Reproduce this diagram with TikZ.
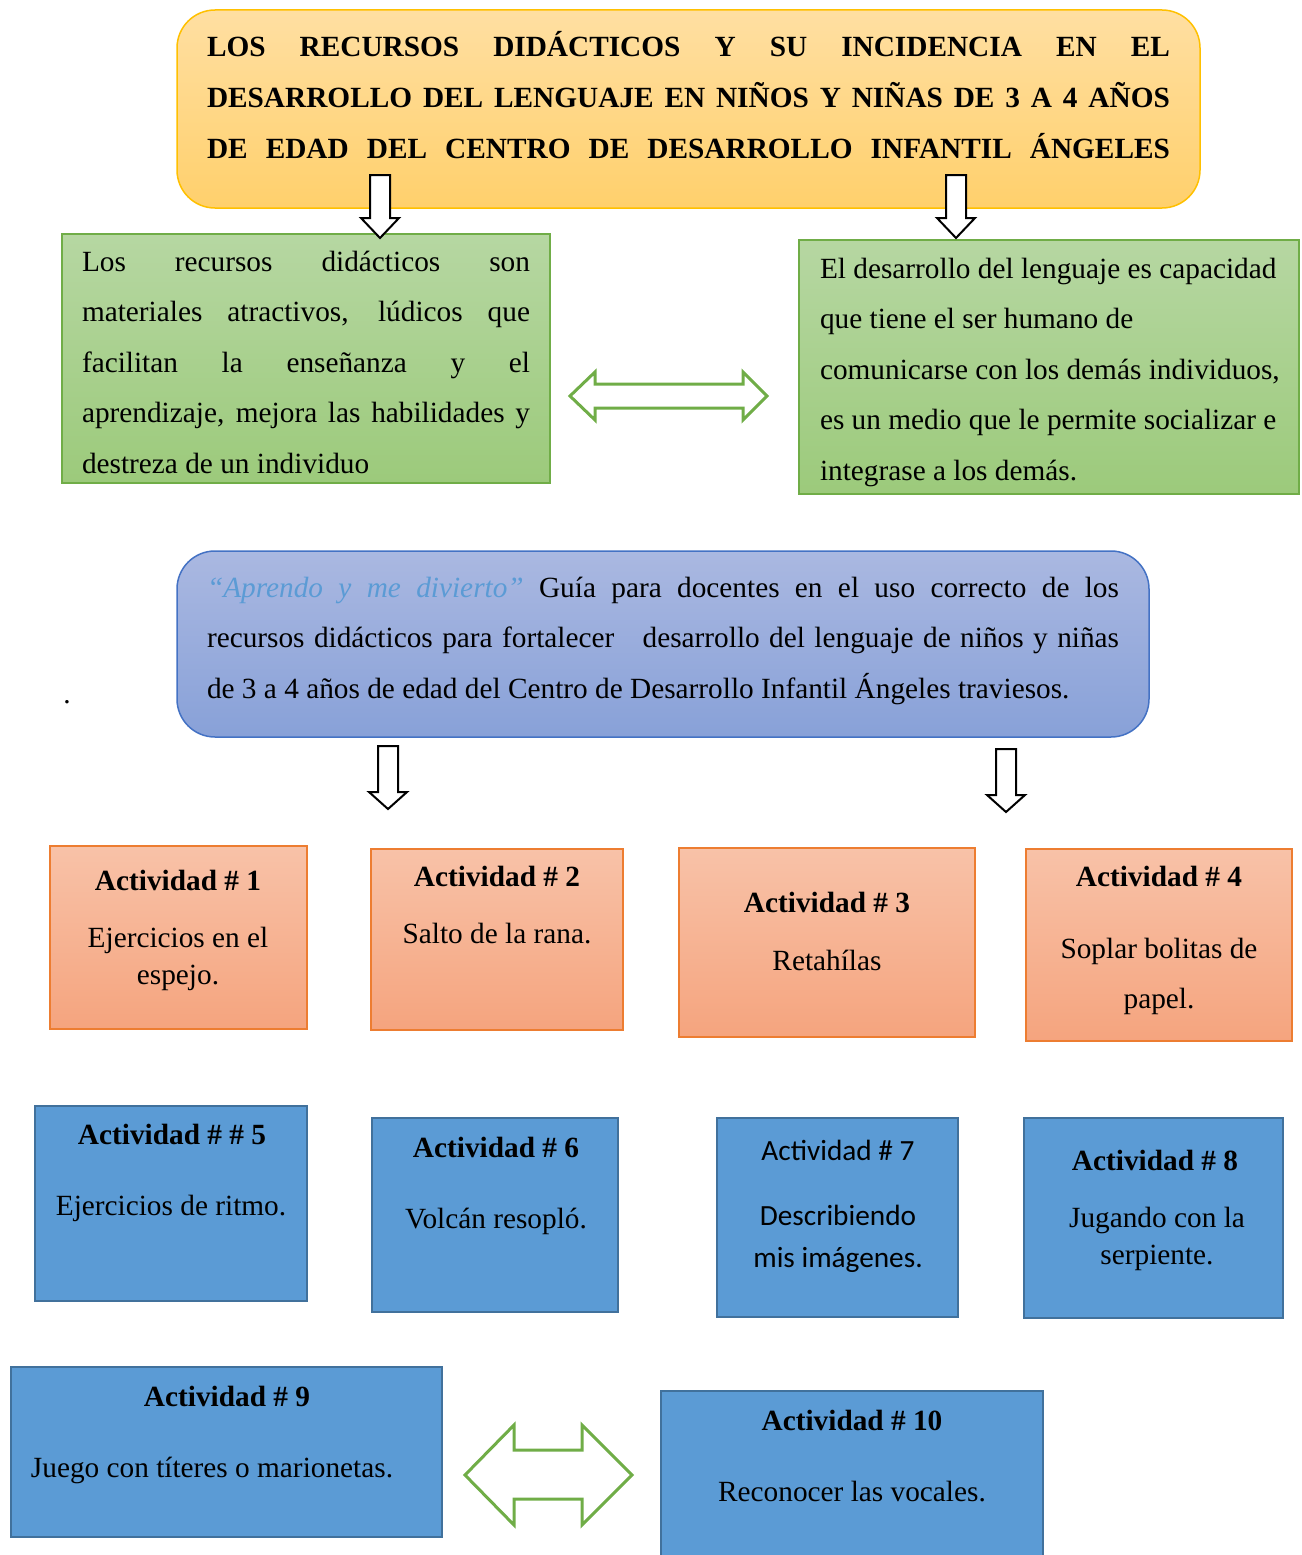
\documentclass[tikz,border=0pt]{standalone}
\usepackage{fontspec}
\setmainfont{Liberation Serif}
\newfontfamily\calibri{Carlito}
\definecolor{tTop}{HTML}{FFDFA2}
\definecolor{tBot}{HTML}{FFD06C}
\definecolor{tBrd}{HTML}{FFC000}
\definecolor{gTop}{HTML}{B6D7A2}
\definecolor{gBot}{HTML}{9CCA7B}
\definecolor{gBrd}{HTML}{70AD47}
\definecolor{bTop}{HTML}{AAB8E1}
\definecolor{bBot}{HTML}{88A1D8}
\definecolor{bBrd}{HTML}{4472C4}
\definecolor{oTop}{HTML}{F8C2A8}
\definecolor{oBot}{HTML}{F5A47E}
\definecolor{oBrd}{HTML}{ED7D31}
\definecolor{sFill}{HTML}{5B9BD5}
\definecolor{sBrd}{HTML}{41719C}
\definecolor{quoteblue}{HTML}{5B9BD5}
\newcommand\jline[2]{\makebox[#1][s]{#2}\\}
\begin{document}
\begin{tikzpicture}[x=1pt,y=-1pt,
  txt/.style={inner sep=0pt,outer sep=0pt,anchor=base,font=\fontsize{29.3}{36}\selectfont},
  btxt/.style={txt,font=\fontsize{29.3}{36}\selectfont\bfseries},
  ctxt/.style={txt,font=\fontsize{29.3}{36}\selectfont\calibri},
  para/.style={inner sep=0pt,outer sep=0pt,anchor=base west},
  titlebox/.style={draw=tBrd,line width=1.5pt,top color=tTop,bottom color=tBot,rounded corners=38pt,inner sep=0pt},
  greenbox/.style={draw=gBrd,line width=1.5pt,top color=gTop,bottom color=gBot,inner sep=0pt},
  guidebox/.style={draw=bBrd,line width=1.5pt,top color=bTop,bottom color=bBot,rounded corners=38pt,inner sep=0pt},
  orangebox/.style={draw=oBrd,line width=1.5pt,top color=oTop,bottom color=oBot,inner sep=0pt},
  solidbox/.style={draw=sBrd,line width=2.5pt,fill=sFill,inner sep=0pt},
  blockarrow/.style={draw=black,line width=2pt,fill=white,line join=miter},
  greenarrow/.style={draw=gBrd,line width=3pt,fill=white,line join=miter}]
\useasboundingbox (0,0) rectangle (1301,1555);

% boxes
\draw[titlebox] (177,10) rectangle (1200,208);
\node[inner sep=0pt] (title) at (688.5,109) {};
\draw[greenbox] (62,234) rectangle (550,483);
\node[inner sep=0pt] (gleft) at (306,358.5) {};
\draw[greenbox] (799,240) rectangle (1299,494);
\node[inner sep=0pt] (gright) at (1049,367) {};
\draw[guidebox] (177,551) rectangle (1149,737);
\node[inner sep=0pt] (guide) at (663,644) {};

\draw[orangebox] (50,846) rectangle (307,1029);
\draw[orangebox] (371,849) rectangle (623,1030);
\draw[orangebox] (679,848) rectangle (975,1037);
\draw[orangebox] (1026,849) rectangle (1292,1041);

\draw[solidbox] (35,1106) rectangle (307,1301);
\draw[solidbox] (372,1118) rectangle (618,1312);
\draw[solidbox] (717,1118) rectangle (958,1317);
\draw[solidbox] (1024,1118) rectangle (1283,1318);
\draw[solidbox] (11,1367) rectangle (442,1537);
\draw[solidbox] (661,1391) rectangle (1043,1570);

% title text
\node[para] (titletext) at (207,57) {\parbox[t]{963pt}{\bfseries\fontsize{29.3}{50.5}\selectfont
\jline{963pt}{LOS RECURSOS DIDÁCTICOS Y SU INCIDENCIA EN EL}
\jline{963pt}{DESARROLLO DEL LENGUAJE EN NIÑOS Y NIÑAS DE 3 A 4 AÑOS}
\makebox[963pt][s]{DE EDAD DEL CENTRO DE DESARROLLO INFANTIL ÁNGELES}}};

% green texts
\node[para] (lefttext) at (82,271) {\parbox[t]{448pt}{\fontsize{29.3}{50.5}\selectfont
\jline{448pt}{Los recursos didácticos son}
\jline{448pt}{materiales atractivos, lúdicos que}
\jline{448pt}{facilitan la enseñanza y el}
\jline{448pt}{aprendizaje, mejora las habilidades y}
destreza de un individuo}};

\node[para] (righttext) at (820,278) {\parbox[t]{470pt}{\raggedright\fontsize{29.3}{50.5}\selectfont
El desarrollo del lenguaje es capacidad\\
que tiene el ser humano de\\
comunicarse con los demás individuos,\\
es un medio que le permite socializar e\\
integrase a los demás.}};

% guide text
\node[para] (guidetext) at (207,597) {\parbox[t]{912pt}{\fontsize{29.3}{50.5}\selectfont
\jline{912pt}{\textcolor{quoteblue}{\itshape “Aprendo y me divierto”} Guía para docentes en el uso correcto de los}
\jline{912pt}{recursos didácticos para fortalecer\ \ \ desarrollo del lenguaje de niños y niñas}
de 3 a 4 años de edad del Centro de Desarrollo Infantil Ángeles traviesos.}};

\node[txt] (dot) at (67,703) {.};

% activity texts
\node[btxt] (a1h) at (178,890) {Actividad \# 1};
\node[txt] (a1a) at (178,947) {Ejercicios en el};
\node[txt] (a1b) at (178,984) {espejo.};
\node[btxt] (a2h) at (497,886) {Actividad \# 2};
\node[txt] (a2a) at (497,943) {Salto de la rana.};
\node[btxt] (a3h) at (827,912) {Actividad \# 3};
\node[txt] (a3a) at (827,970) {Retahílas};
\node[btxt] (a4h) at (1159,886) {Actividad \# 4};
\node[txt] (a4a) at (1159,958) {Soplar bolitas de};
\node[txt] (a4b) at (1159,1008) {papel.};

\node[btxt] (a5h) at (172,1144) {Actividad \# \# 5};
\node[txt] (a5a) at (171,1215) {Ejercicios de ritmo.};
\node[btxt] (a6h) at (496,1157) {Actividad \# 6};
\node[txt] (a6a) at (496,1228) {Volcán resopló.};
\node[ctxt] (a7h) at (838,1160) {Actividad \# 7};
\node[ctxt] (a7a) at (838,1225) {Describiendo};
\node[ctxt] (a7b) at (838,1267) {mis imágenes.};
\node[btxt] (a8h) at (1155,1170) {Actividad \# 8};
\node[txt] (a8a) at (1157,1227) {Jugando con la};
\node[txt] (a8b) at (1157,1264) {serpiente.};
\node[btxt] (a9h) at (227,1406) {Actividad \# 9};
\node[txt] (a9a) at (212,1477) {Juego con títeres o marionetas.};
\node[btxt] (a10h) at (852,1430) {Actividad \# 10};
\node[txt] (a10a) at (852,1501) {Reconocer las vocales.};

% block arrows
\draw[blockarrow] (370,175) -- (390,175) -- (390,218) -- (399,218) -- (380,238) -- (361,218) -- (370,218) -- cycle;
\draw[blockarrow] (946,175) -- (966,175) -- (966,218) -- (975,218) -- (956,238) -- (937,218) -- (946,218) -- cycle;
\draw[blockarrow] (378,746) -- (398,746) -- (398,792) -- (407,792) -- (388,809) -- (369,792) -- (378,792) -- cycle;
\draw[blockarrow] (996,749) -- (1016,749) -- (1016,795) -- (1025,795) -- (1006,812) -- (987,795) -- (996,795) -- cycle;

\draw[greenarrow] (570,396) -- (595,372) -- (595,384) -- (743,384) -- (743,372) -- (767,396) -- (743,420) -- (743,408) -- (595,408) -- (595,420) -- cycle;
\draw[greenarrow] (465,1475) -- (514,1425) -- (514,1450) -- (582,1450) -- (582,1425) -- (632,1475) -- (582,1525) -- (582,1499) -- (514,1499) -- (514,1525) -- cycle;
\end{tikzpicture}
\end{document}
